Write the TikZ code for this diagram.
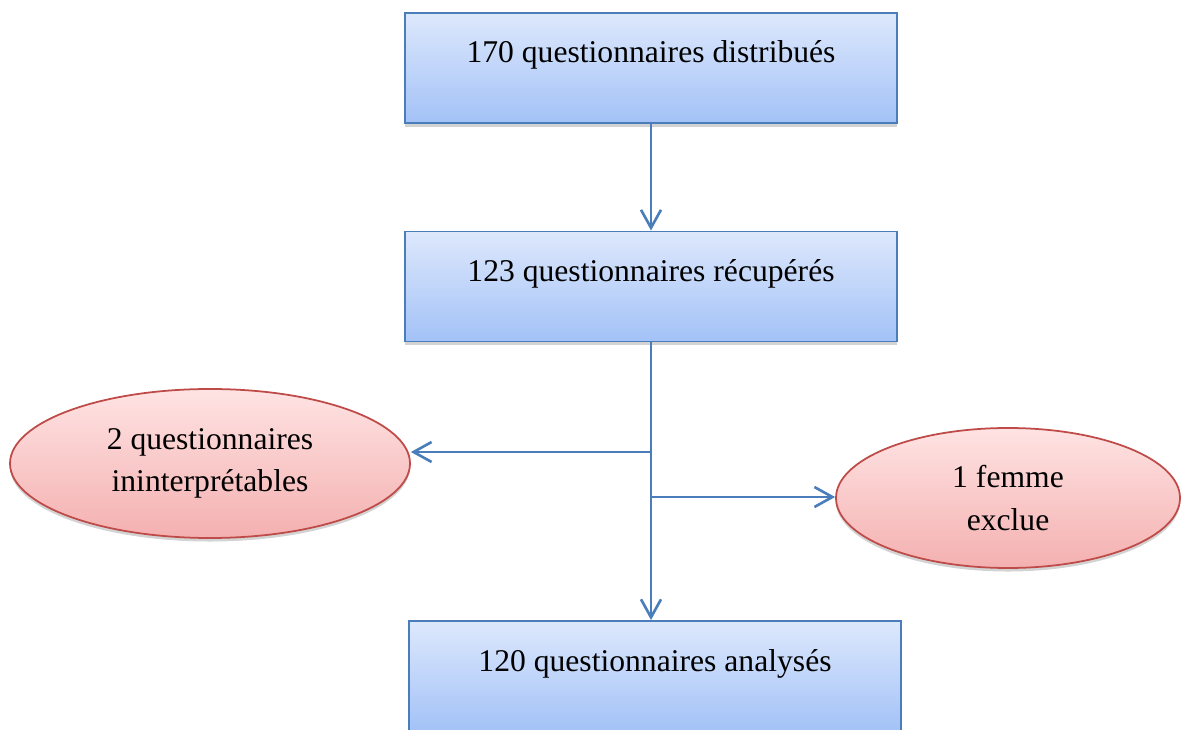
\documentclass[tikz,border=0pt]{standalone}
\usepackage{fontspec}
\setmainfont{Liberation Serif}
\usetikzlibrary{positioning}
\usetikzlibrary{shapes.geometric}
\usetikzlibrary{arrows.meta}
\usetikzlibrary{shadows}

\definecolor{lineblue}{HTML}{4A7EBB}
\definecolor{boxtop}{HTML}{DDE8FC}
\definecolor{boxbot}{HTML}{A3C2F7}
\definecolor{elltop}{HTML}{FFE3E3}
\definecolor{ellbot}{HTML}{F4B0B0}
\definecolor{ellline}{HTML}{BE4B48}

\begin{document}
\begin{tikzpicture}[%
				stepbox/.style={draw=lineblue, line width=1.1pt, top color=boxtop, bottom color=boxbot,
					minimum width=9.84cm, minimum height=2.2cm, text height=0.45cm, text depth=0.65cm,
					font=\fontsize{18}{24}\selectfont,
					drop shadow={shadow xshift=0pt, shadow yshift=-2pt, opacity=0.35}},
				lossbox/.style={ellipse, draw=ellline, line width=1pt, top color=elltop, bottom color=ellbot,
					align=center, inner sep=0pt, font=\fontsize{18}{24}\selectfont,
					drop shadow={shadow xshift=0pt, shadow yshift=-2pt, opacity=0.35}},
				flow/.style={draw=lineblue, line width=1.5pt, -{Straight Barb[length=0.36cm, width=0.4cm, line width=1.5pt]}}]
				\useasboundingbox (0,0) rectangle (23.74,14.58);
				\node[stepbox] (distrib) at (13.02,13.22) {170 questionnaires distribués};
				\node[stepbox] (recup) at (13.02,8.85) {123 questionnaires récupérés};
				\node[stepbox] (analys) at (13.10,1.06) {120 questionnaires analysés};
				\node[lossbox, minimum width=8cm, minimum height=2.98cm] (ininterp) at (4.20,5.31) {2 questionnaires\\ininterprétables};
				\node[lossbox, minimum width=6.88cm, minimum height=2.8cm] (femme) at (20.16,4.62) {1 femme\\exclue};
				% branch points on the trunk
				\coordinate (jleft) at (recup.south |- 0,5.54);
				\coordinate (jright) at (recup.south |- 0,4.64);
				\draw[flow] (distrib.south) -- (recup.north);
				\draw[flow] (recup.south) -- (recup.south |- analys.north);
				\draw[flow] (jleft) -- (jleft -| ininterp.east);
				\draw[flow] (jright) -- (jright -| femme.west);
		\end{tikzpicture}
\end{document}
